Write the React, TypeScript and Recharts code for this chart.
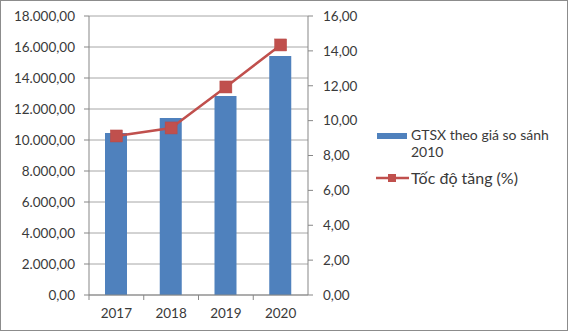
import React from "react";
import {
  ComposedChart,
  Bar,
  Line,
  XAxis,
  YAxis,
  CartesianGrid,
} from "recharts";

const years = ["2017", "2018", "2019", "2020"];
const gtsxValues = [10450, 11420, 12840, 15420];
const growthValues = [9.12, 9.58, 11.93, 14.34];
const leftTicks = [0, 2000, 4000, 6000, 8000, 10000, 12000, 14000, 16000, 18000];
const rightTicks = [0, 2, 4, 6, 8, 10, 12, 14, 16];
const barSeriesName = "GTSX theo giá so sánh 2010";
const lineSeriesName = "Tốc độ tăng (%)";

const data = years.map((y, i) => ({
  year: y,
  gtsx: gtsxValues[i],
  growth: growthValues[i],
}));

const W = 568;
const H = 331;
const LEFT_W = 89;
const RIGHT_W = 50;
const MARGIN_RIGHT = 210;
const PLOT_W = W - LEFT_W - RIGHT_W - MARGIN_RIGHT;
const HALF_BAND = PLOT_W / years.length / 2;
const FONT = "Lato, 'Open Sans', sans-serif";
const TEXT = "#3a3a3a";
const AXIS = "#878787";
const GRID = "#a6a6a6";
const BLUE = "#4F81BD";
const RED = "#C0504D";

function fmtVN(v: number): string {
  const fixed = v.toFixed(2);
  const [intPart, dec] = fixed.split(".");
  const withDots = intPart.replace(/\B(?=(\d{3})+(?!\d))/g, ".");
  return `${withDots},${dec}`;
}

const XTick = (props: any) => {
  const { x, y, payload } = props;
  return (
    <g>
      <line x1={x - HALF_BAND} x2={x - HALF_BAND} y1={y} y2={y + 5} stroke={AXIS} />
      <text
        x={x}
        y={y + 23}
        textAnchor="middle"
        fill={TEXT}
        fontSize={13.5}
        fontFamily={FONT}
      >
        {payload.value}
      </text>
    </g>
  );
};

const Square = (props: any) => {
  const { cx, cy, index } = props;
  if (cx == null || cy == null) return <g key={index} />;
  return (
    <rect
      key={index}
      x={cx - 6}
      y={cy - 6}
      width={12}
      height={12}
      fill={RED}
      stroke="#b84a47"
      strokeWidth={0.5}
    />
  );
};

export default function App() {
  return (
    <div style={{ position: "relative", width: W, height: H, margin: 0 }}>
      <style>{`body{margin:0}`}</style>
      <ComposedChart
        width={W}
        height={H}
        data={data}
        margin={{ top: 16, right: MARGIN_RIGHT, left: 0, bottom: 0 }}
      >
        <CartesianGrid yAxisId="left" vertical={false} stroke={GRID} strokeWidth={1} />
        <XAxis
          dataKey="year"
          height={36}
          axisLine={{ stroke: AXIS }}
          tickLine={false}
          tickSize={0}
          tickMargin={0}
          tick={<XTick />}
          interval={0}
        />
        <YAxis
          yAxisId="left"
          width={LEFT_W}
          domain={[0, 18000]}
          ticks={leftTicks}
          interval={0}
          tickFormatter={fmtVN}
          axisLine={{ stroke: AXIS }}
          tickLine={{ stroke: AXIS }}
          tickSize={5}
          tickMargin={9}
          tick={{ fill: TEXT, fontSize: 13.5, fontFamily: FONT }}
        />
        <YAxis
          yAxisId="right"
          orientation="right"
          width={RIGHT_W}
          domain={[0, 16]}
          ticks={rightTicks}
          interval={0}
          tickFormatter={fmtVN}
          axisLine={{ stroke: AXIS }}
          tickLine={{ stroke: AXIS }}
          tickSize={5}
          tickMargin={10}
          tick={{ fill: TEXT, fontSize: 13.5, fontFamily: FONT }}
        />
        <Bar
          yAxisId="left"
          dataKey="gtsx"
          name={barSeriesName}
          fill={BLUE}
          barSize={22}
          isAnimationActive={false}
        />
        <Line
          yAxisId="right"
          dataKey="growth"
          name={lineSeriesName}
          stroke={RED}
          strokeWidth={2.5}
          dot={Square}
          activeDot={false}
          isAnimationActive={false}
        />
      </ComposedChart>
      <div
        style={{
          position: "absolute",
          left: 376,
          top: 126,
          width: 190,
          fontFamily: FONT,
          color: TEXT,
        }}
      >
        <div style={{ display: "flex", alignItems: "flex-start" }}>
          <svg width={35} height={20} style={{ flex: "none" }}>
            <rect x={1} y={7} width={30} height={6} fill={BLUE} />
          </svg>
          <div style={{ fontSize: 14, lineHeight: "17px", width: 155 }}>{barSeriesName}</div>
        </div>
        <div style={{ display: "flex", alignItems: "center", marginTop: 8 }}>
          <svg width={35} height={20} style={{ flex: "none" }}>
            <line x1={0} x2={33} y1={10} y2={10} stroke={RED} strokeWidth={2.5} />
            <rect x={12} y={6} width={8} height={8} fill={RED} />
          </svg>
          <div style={{ fontSize: 16, lineHeight: "18px" }}>{lineSeriesName}</div>
        </div>
      </div>
      <div
        style={{
          position: "absolute",
          left: 0,
          top: 0,
          width: W,
          height: H,
          boxSizing: "border-box",
          border: "1px solid #8c8c8c",
          pointerEvents: "none",
        }}
      />
    </div>
  );
}
